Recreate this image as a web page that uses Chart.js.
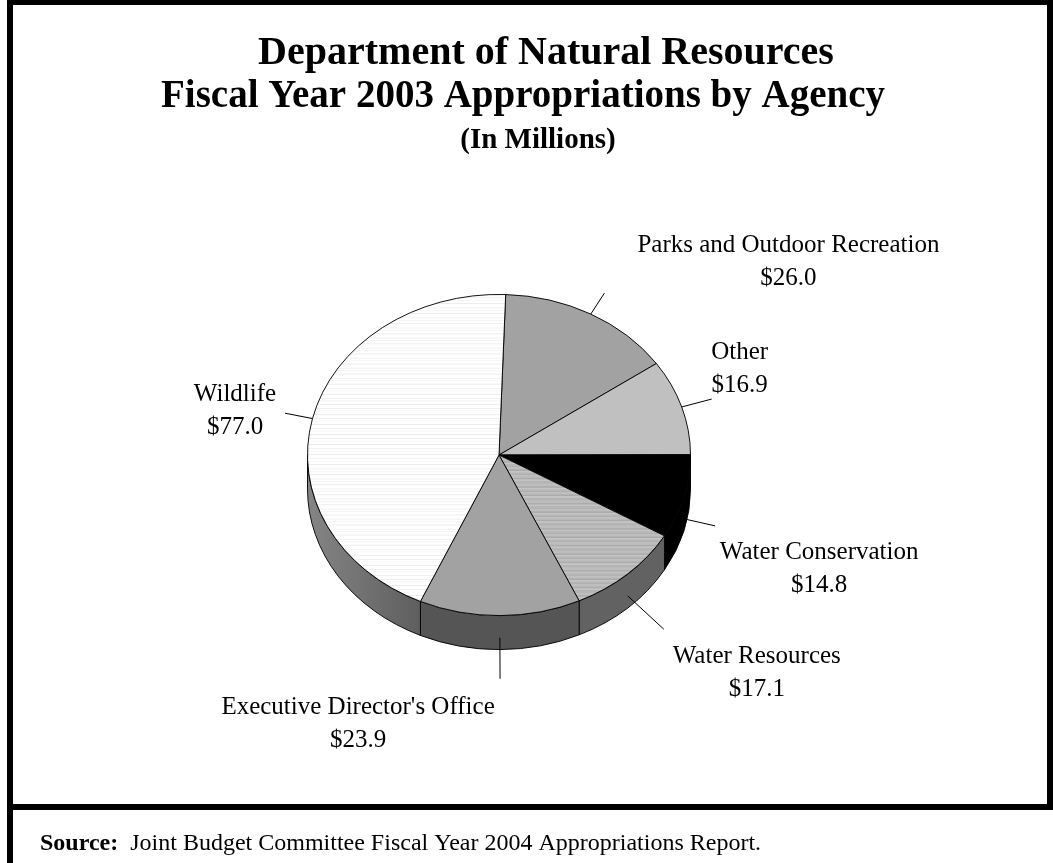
<!DOCTYPE html>
<html>
<head>
<meta charset="utf-8">
<title>Department of Natural Resources - FY 2003 Appropriations</title>
<script src="https://cdn.jsdelivr.net/npm/chart.js@4.4.0/dist/chart.umd.min.js"></script>
<style>
  html, body { margin: 0; padding: 0; background: #fff; }
  canvas { display: block; }
</style>
</head>
<body>
<canvas id="pieChart" width="1053" height="863"></canvas>
<script>
// Data (in millions), clockwise from the top
const categories = ['Parks and Outdoor Recreation', 'Other', 'Water Conservation',
                    'Water Resources', "Executive Director's Office", 'Wildlife'];
const appropriations = [26.0, 16.9, 14.8, 17.1, 23.9, 77.0];
const valueLabels = appropriations.map(v => '$' + v.toFixed(1));

const titleLines = ['Department of Natural Resources',
                    'Fiscal Year 2003 Appropriations by Agency',
                    '(In Millions)'];
const sourceLabel = 'Source:';
const sourceText = 'Joint Budget Committee Fiscal Year 2004 Appropriations Report.';

// Look of the 3D pie
const tilt = 161 / 192;   // vertical squash of the pie top
const depth = 34;         // thickness of the pie in px
const serif = '"Liberation Serif", "Times New Roman", serif';

// striped fills like the original
function stripes(rows) {
    const c = document.createElement('canvas');
    c.width = 4; c.height = rows.length;
    const g = c.getContext('2d');
    rows.forEach((col, y) => { g.fillStyle = col; g.fillRect(0, y, 4, 1); });
    return g.createPattern(c, 'repeat');
}
const ctx = document.getElementById('pieChart').getContext('2d');
const wildlifeFill = stripes(['#ffffff', '#ffffff', '#ffffff', '#eeeeee', '#ffffff', '#ffffff',
                              '#f4f4f4', '#ffffff', '#ffffff', '#ffffff', '#e9e9e9', '#ffffff']);
const waterResFill = stripes(['#bdbdbd', '#bdbdbd', '#b0b0b0', '#a9a9a9', '#c4c4c4',
                              '#c4c4c4', '#b3b3b3', '#b8b8b8', '#aeaeae', '#c0c0c0']);

const topColors = ['#a2a2a2', '#c0c0c0', '#000000', waterResFill, '#a2a2a2', wildlifeFill];
const sideColors = ['#6a6a6a', '#7a7a7a', '#000000', '#626262', '#555555', '#858585'];

// label placement: leader length, and text offset from the leader end
const leaderLen = [25, 31, 32, 49, 41, 28];
const labelShift = [[184, -41], [28, -40], [104, 33], [93, 34], [-142, 35], [-50, -12]];

// white page, black frame, headings and source note
const framePlugin = {
    id: 'frame',
    beforeDraw(chart) {
        const c = chart.ctx;
        c.save();
        c.fillStyle = '#fff';
        c.fillRect(0, 0, chart.width, chart.height);
        c.fillStyle = '#000';
        c.fillRect(7, 0, chart.width - 7, 5);      // top
        c.fillRect(7, 0, 6, chart.height);         // left
        c.fillRect(chart.width - 6, 0, 6, 810);    // right
        c.fillRect(7, 804, chart.width - 7, 6);    // divider above source

        c.textAlign = 'center';
        c.textBaseline = 'alphabetic';
        c.font = 'bold 40px ' + serif;
        c.fillText(titleLines[0], 546, 64);
        c.font = 'bold 39px ' + serif;
        c.fillText(titleLines[1], 523, 107);
        c.font = 'bold 29px ' + serif;
        c.fillText(titleLines[2], 538, 148);

        c.textAlign = 'left';
        c.font = 'bold 24px ' + serif;
        c.fillText(sourceLabel, 40, 850);
        const w = c.measureText(sourceLabel + '  ').width;
        c.font = '24px ' + serif;
        c.fillText(sourceText, 40 + w, 850);
        c.restore();
    }
};

// squash the pie and draw the visible side walls under it
const pie3dPlugin = {
    id: 'pie3d',
    beforeDatasetsDraw(chart) {
        const c = chart.ctx;
        const arcs = chart.getDatasetMeta(0).data;
        const cx = arcs[0].x, cy = arcs[0].y;
        c.save();
        c.translate(cx, cy);
        c.scale(1, tilt);
        c.translate(-cx, -cy);
        const d = depth / tilt;
        arcs.forEach((arc, i) => {
            const s = Math.max(arc.startAngle, 0);
            const e = Math.min(arc.endAngle, Math.PI);
            if (e <= s) return;
            const r = arc.outerRadius;
            // shade the wildlife wall darker towards the front
            const xa = cx + r * Math.cos(s), xb = cx + r * Math.cos(e);
            const grad = c.createLinearGradient(Math.min(xa, xb), 0, Math.max(xa, xb), 0);
            grad.addColorStop(0, sideColors[i]);
            grad.addColorStop(1, '#5e5e5e');
            c.beginPath();
            c.arc(cx, cy, r, s, e);
            c.arc(cx, cy + d, r, e, s, true);
            c.closePath();
            c.fillStyle = i === 5 ? grad : sideColors[i];
            c.fill();
            c.lineWidth = 1;
            c.strokeStyle = '#000';
            c.stroke();
        });
    },
    afterDatasetsDraw(chart) {
        chart.ctx.restore();
    }
};

// leader lines and two-line labels
const labelPlugin = {
    id: 'sliceLabels',
    afterDraw(chart) {
        const c = chart.ctx;
        const arcs = chart.getDatasetMeta(0).data;
        c.save();
        c.strokeStyle = '#000';
        c.lineWidth = 1;
        c.fillStyle = '#000';
        c.font = '25px ' + serif;
        c.textAlign = 'center';
        c.textBaseline = 'alphabetic';
        arcs.forEach((arc, i) => {
            const m = (arc.startAngle + arc.endAngle) / 2;
            const r = arc.outerRadius;
            const ux = Math.cos(m), uy = Math.sin(m);
            const x0 = arc.x + r * ux;
            let y0 = arc.y + r * uy * tilt;
            if (uy > 0.2) y0 += depth * 0.65;
            const len = Math.hypot(ux, uy * tilt);
            const x1 = x0 + ux / len * leaderLen[i];
            const y1 = y0 + uy * tilt / len * leaderLen[i];
            c.beginPath();
            c.moveTo(x0, y0);
            c.lineTo(x1, y1);
            c.stroke();
            const tx = x1 + labelShift[i][0], ty = y1 + labelShift[i][1];
            c.fillText(categories[i], tx, ty);
            c.fillText(valueLabels[i], tx, ty + 33);
        });
        c.restore();
    }
};

const pieChart = new Chart(ctx, {
    type: 'pie',
    data: {
        labels: categories,
        datasets: [{
            data: appropriations,
            backgroundColor: topColors,
            borderColor: '#000',
            borderWidth: 1,
            clip: false
        }]
    },
    options: {
        responsive: false,
        animation: false,
        devicePixelRatio: 1,
        rotation: 2,
        layout: { padding: { left: 307, right: 362, top: 263, bottom: 216 } },
        plugins: {
            legend: { display: false },
            tooltip: { enabled: false },
            title: { display: false }
        },
        events: []
    },
    plugins: [framePlugin, pie3dPlugin, labelPlugin]
});
</script>
</body>
</html>
